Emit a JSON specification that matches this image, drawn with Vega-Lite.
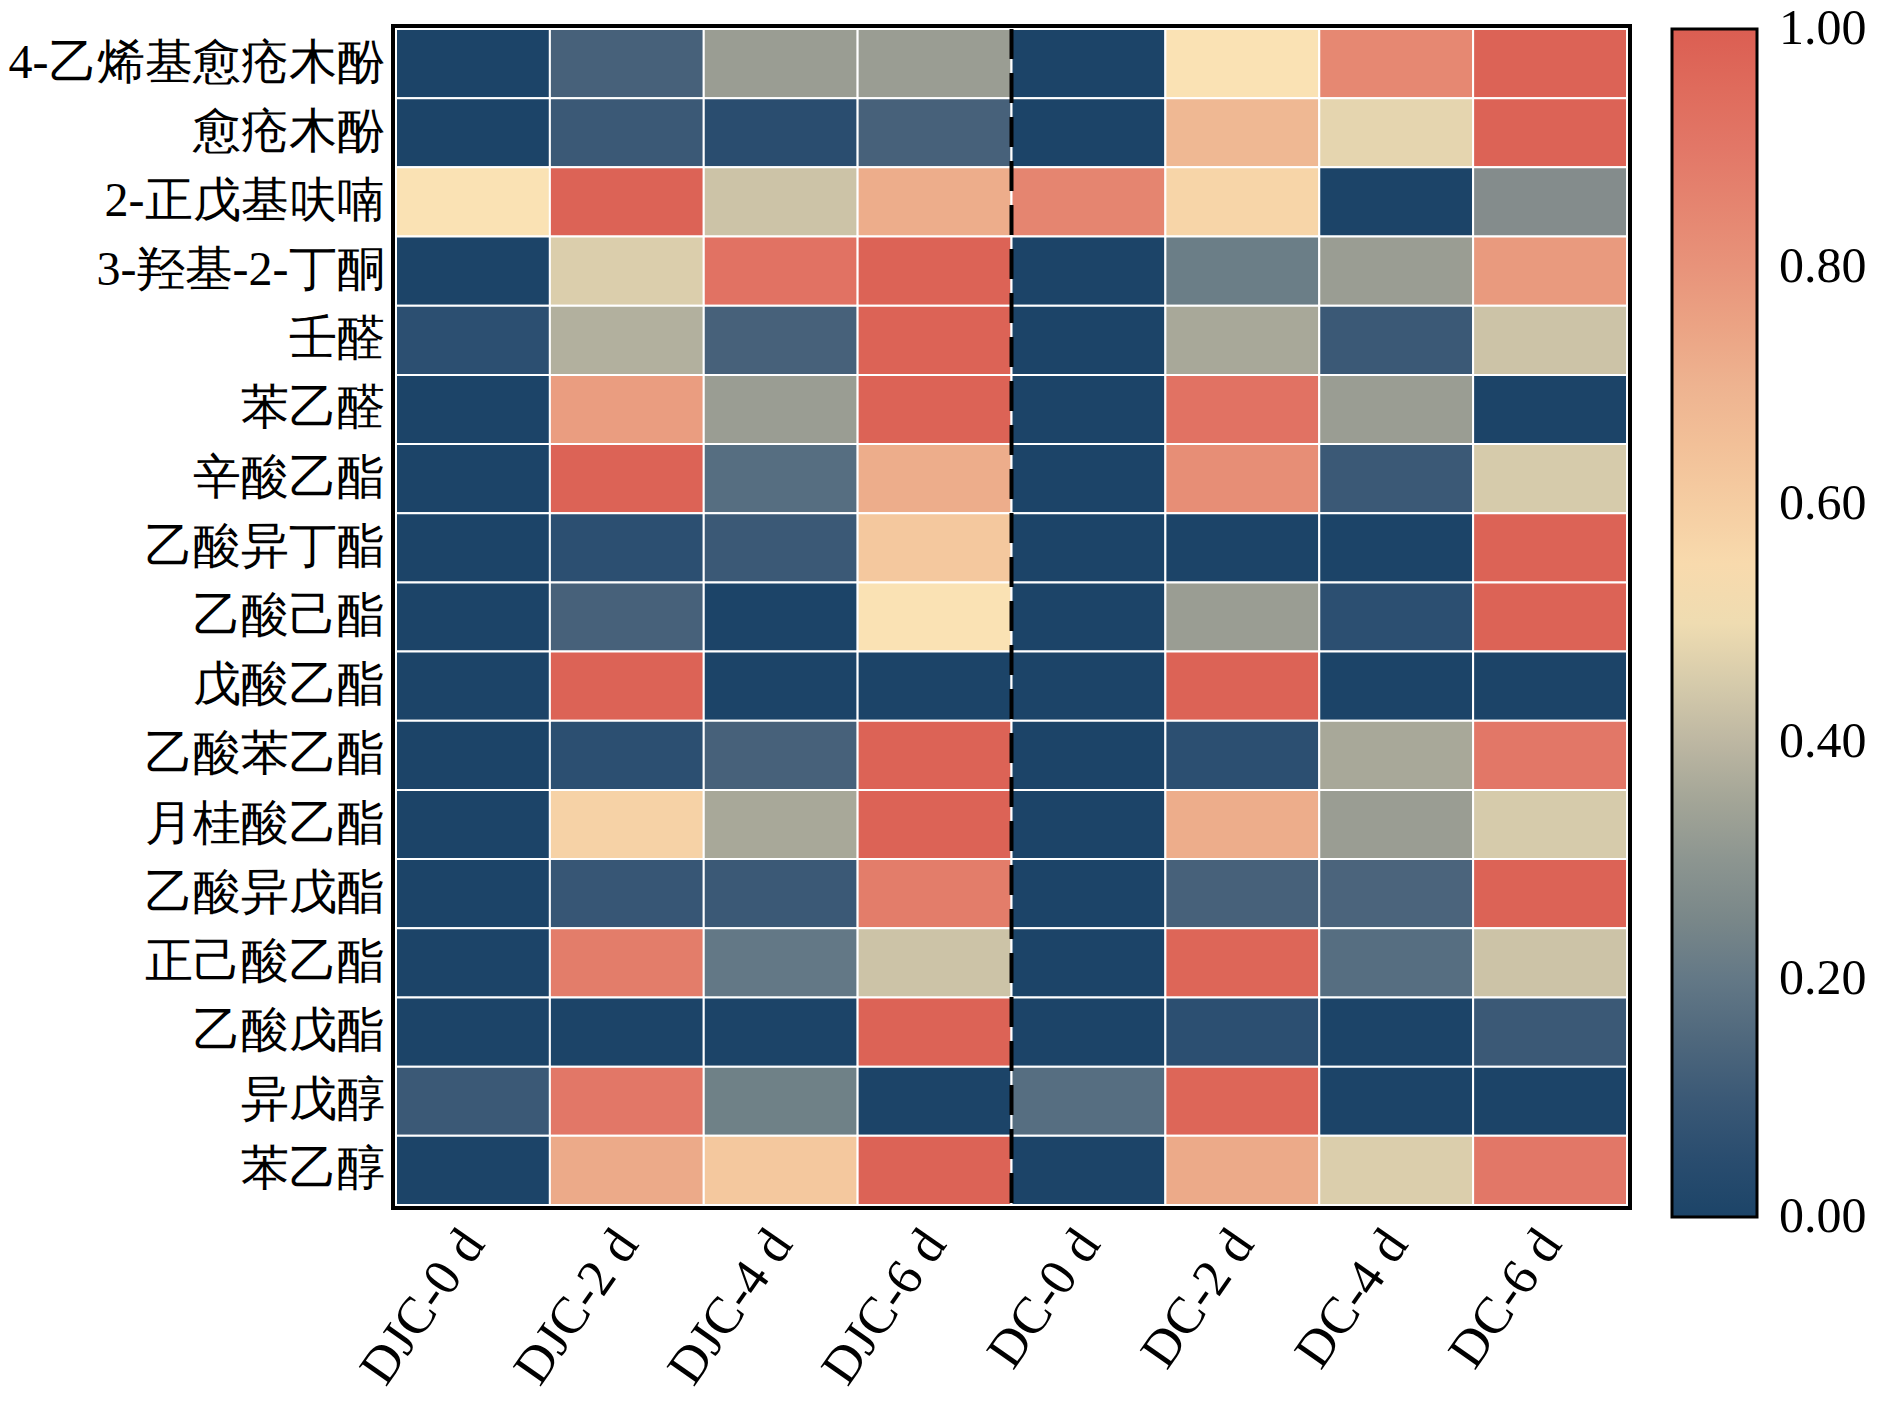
{
  "$schema": "https://vega.github.io/schema/vega-lite/v6.json",
  "autosize": {"type": "none"},
  "padding": {"left": 396, "top": 29, "right": 260, "bottom": 200},
  "width": 1231,
  "height": 1176,
  "background": "white",
  "config": {
    "font": "Liberation Serif",
    "view": {"stroke": "black", "strokeWidth": 10}
  },
  "data": {"values": [
    {"compound": "4-乙烯基愈疮木酚", "sample": "DJC-0 d", "value": 0},
    {"compound": "4-乙烯基愈疮木酚", "sample": "DJC-2 d", "value": 0.13},
    {"compound": "4-乙烯基愈疮木酚", "sample": "DJC-4 d", "value": 0.33},
    {"compound": "4-乙烯基愈疮木酚", "sample": "DJC-6 d", "value": 0.33},
    {"compound": "4-乙烯基愈疮木酚", "sample": "DC-0 d", "value": 0},
    {"compound": "4-乙烯基愈疮木酚", "sample": "DC-2 d", "value": 0.52},
    {"compound": "4-乙烯基愈疮木酚", "sample": "DC-4 d", "value": 0.84},
    {"compound": "4-乙烯基愈疮木酚", "sample": "DC-6 d", "value": 0.98},
    {"compound": "愈疮木酚", "sample": "DJC-0 d", "value": 0},
    {"compound": "愈疮木酚", "sample": "DJC-2 d", "value": 0.1},
    {"compound": "愈疮木酚", "sample": "DJC-4 d", "value": 0.05},
    {"compound": "愈疮木酚", "sample": "DJC-6 d", "value": 0.13},
    {"compound": "愈疮木酚", "sample": "DC-0 d", "value": 0},
    {"compound": "愈疮木酚", "sample": "DC-2 d", "value": 0.68},
    {"compound": "愈疮木酚", "sample": "DC-4 d", "value": 0.48},
    {"compound": "愈疮木酚", "sample": "DC-6 d", "value": 0.98},
    {"compound": "2-正戊基呋喃", "sample": "DJC-0 d", "value": 0.52},
    {"compound": "2-正戊基呋喃", "sample": "DJC-2 d", "value": 0.98},
    {"compound": "2-正戊基呋喃", "sample": "DJC-4 d", "value": 0.43},
    {"compound": "2-正戊基呋喃", "sample": "DJC-6 d", "value": 0.72},
    {"compound": "2-正戊基呋喃", "sample": "DC-0 d", "value": 0.85},
    {"compound": "2-正戊基呋喃", "sample": "DC-2 d", "value": 0.57},
    {"compound": "2-正戊基呋喃", "sample": "DC-4 d", "value": 0},
    {"compound": "2-正戊基呋喃", "sample": "DC-6 d", "value": 0.27},
    {"compound": "3-羟基-2-丁酮", "sample": "DJC-0 d", "value": 0},
    {"compound": "3-羟基-2-丁酮", "sample": "DJC-2 d", "value": 0.46},
    {"compound": "3-羟基-2-丁酮", "sample": "DJC-4 d", "value": 0.92},
    {"compound": "3-羟基-2-丁酮", "sample": "DJC-6 d", "value": 0.98},
    {"compound": "3-羟基-2-丁酮", "sample": "DC-0 d", "value": 0},
    {"compound": "3-羟基-2-丁酮", "sample": "DC-2 d", "value": 0.22},
    {"compound": "3-羟基-2-丁酮", "sample": "DC-4 d", "value": 0.33},
    {"compound": "3-羟基-2-丁酮", "sample": "DC-6 d", "value": 0.78},
    {"compound": "壬醛", "sample": "DJC-0 d", "value": 0.06},
    {"compound": "壬醛", "sample": "DJC-2 d", "value": 0.38},
    {"compound": "壬醛", "sample": "DJC-4 d", "value": 0.13},
    {"compound": "壬醛", "sample": "DJC-6 d", "value": 0.98},
    {"compound": "壬醛", "sample": "DC-0 d", "value": 0},
    {"compound": "壬醛", "sample": "DC-2 d", "value": 0.36},
    {"compound": "壬醛", "sample": "DC-4 d", "value": 0.1},
    {"compound": "壬醛", "sample": "DC-6 d", "value": 0.43},
    {"compound": "苯乙醛", "sample": "DJC-0 d", "value": 0},
    {"compound": "苯乙醛", "sample": "DJC-2 d", "value": 0.77},
    {"compound": "苯乙醛", "sample": "DJC-4 d", "value": 0.33},
    {"compound": "苯乙醛", "sample": "DJC-6 d", "value": 0.98},
    {"compound": "苯乙醛", "sample": "DC-0 d", "value": 0},
    {"compound": "苯乙醛", "sample": "DC-2 d", "value": 0.92},
    {"compound": "苯乙醛", "sample": "DC-4 d", "value": 0.33},
    {"compound": "苯乙醛", "sample": "DC-6 d", "value": 0},
    {"compound": "辛酸乙酯", "sample": "DJC-0 d", "value": 0},
    {"compound": "辛酸乙酯", "sample": "DJC-2 d", "value": 0.98},
    {"compound": "辛酸乙酯", "sample": "DJC-4 d", "value": 0.17},
    {"compound": "辛酸乙酯", "sample": "DJC-6 d", "value": 0.72},
    {"compound": "辛酸乙酯", "sample": "DC-0 d", "value": 0},
    {"compound": "辛酸乙酯", "sample": "DC-2 d", "value": 0.82},
    {"compound": "辛酸乙酯", "sample": "DC-4 d", "value": 0.1},
    {"compound": "辛酸乙酯", "sample": "DC-6 d", "value": 0.45},
    {"compound": "乙酸异丁酯", "sample": "DJC-0 d", "value": 0},
    {"compound": "乙酸异丁酯", "sample": "DJC-2 d", "value": 0.06},
    {"compound": "乙酸异丁酯", "sample": "DJC-4 d", "value": 0.1},
    {"compound": "乙酸异丁酯", "sample": "DJC-6 d", "value": 0.62},
    {"compound": "乙酸异丁酯", "sample": "DC-0 d", "value": 0},
    {"compound": "乙酸异丁酯", "sample": "DC-2 d", "value": 0},
    {"compound": "乙酸异丁酯", "sample": "DC-4 d", "value": 0},
    {"compound": "乙酸异丁酯", "sample": "DC-6 d", "value": 0.98},
    {"compound": "乙酸己酯", "sample": "DJC-0 d", "value": 0},
    {"compound": "乙酸己酯", "sample": "DJC-2 d", "value": 0.13},
    {"compound": "乙酸己酯", "sample": "DJC-4 d", "value": 0},
    {"compound": "乙酸己酯", "sample": "DJC-6 d", "value": 0.52},
    {"compound": "乙酸己酯", "sample": "DC-0 d", "value": 0},
    {"compound": "乙酸己酯", "sample": "DC-2 d", "value": 0.33},
    {"compound": "乙酸己酯", "sample": "DC-4 d", "value": 0.06},
    {"compound": "乙酸己酯", "sample": "DC-6 d", "value": 0.98},
    {"compound": "戊酸乙酯", "sample": "DJC-0 d", "value": 0},
    {"compound": "戊酸乙酯", "sample": "DJC-2 d", "value": 0.98},
    {"compound": "戊酸乙酯", "sample": "DJC-4 d", "value": 0},
    {"compound": "戊酸乙酯", "sample": "DJC-6 d", "value": 0},
    {"compound": "戊酸乙酯", "sample": "DC-0 d", "value": 0},
    {"compound": "戊酸乙酯", "sample": "DC-2 d", "value": 0.98},
    {"compound": "戊酸乙酯", "sample": "DC-4 d", "value": 0},
    {"compound": "戊酸乙酯", "sample": "DC-6 d", "value": 0},
    {"compound": "乙酸苯乙酯", "sample": "DJC-0 d", "value": 0},
    {"compound": "乙酸苯乙酯", "sample": "DJC-2 d", "value": 0.06},
    {"compound": "乙酸苯乙酯", "sample": "DJC-4 d", "value": 0.13},
    {"compound": "乙酸苯乙酯", "sample": "DJC-6 d", "value": 0.98},
    {"compound": "乙酸苯乙酯", "sample": "DC-0 d", "value": 0},
    {"compound": "乙酸苯乙酯", "sample": "DC-2 d", "value": 0.06},
    {"compound": "乙酸苯乙酯", "sample": "DC-4 d", "value": 0.36},
    {"compound": "乙酸苯乙酯", "sample": "DC-6 d", "value": 0.9},
    {"compound": "月桂酸乙酯", "sample": "DJC-0 d", "value": 0},
    {"compound": "月桂酸乙酯", "sample": "DJC-2 d", "value": 0.58},
    {"compound": "月桂酸乙酯", "sample": "DJC-4 d", "value": 0.36},
    {"compound": "月桂酸乙酯", "sample": "DJC-6 d", "value": 0.98},
    {"compound": "月桂酸乙酯", "sample": "DC-0 d", "value": 0},
    {"compound": "月桂酸乙酯", "sample": "DC-2 d", "value": 0.72},
    {"compound": "月桂酸乙酯", "sample": "DC-4 d", "value": 0.33},
    {"compound": "月桂酸乙酯", "sample": "DC-6 d", "value": 0.45},
    {"compound": "乙酸异戊酯", "sample": "DJC-0 d", "value": 0},
    {"compound": "乙酸异戊酯", "sample": "DJC-2 d", "value": 0.09},
    {"compound": "乙酸异戊酯", "sample": "DJC-4 d", "value": 0.1},
    {"compound": "乙酸异戊酯", "sample": "DJC-6 d", "value": 0.88},
    {"compound": "乙酸异戊酯", "sample": "DC-0 d", "value": 0},
    {"compound": "乙酸异戊酯", "sample": "DC-2 d", "value": 0.13},
    {"compound": "乙酸异戊酯", "sample": "DC-4 d", "value": 0.14},
    {"compound": "乙酸异戊酯", "sample": "DC-6 d", "value": 0.98},
    {"compound": "正己酸乙酯", "sample": "DJC-0 d", "value": 0},
    {"compound": "正己酸乙酯", "sample": "DJC-2 d", "value": 0.88},
    {"compound": "正己酸乙酯", "sample": "DJC-4 d", "value": 0.2},
    {"compound": "正己酸乙酯", "sample": "DJC-6 d", "value": 0.43},
    {"compound": "正己酸乙酯", "sample": "DC-0 d", "value": 0},
    {"compound": "正己酸乙酯", "sample": "DC-2 d", "value": 0.97},
    {"compound": "正己酸乙酯", "sample": "DC-4 d", "value": 0.17},
    {"compound": "正己酸乙酯", "sample": "DC-6 d", "value": 0.43},
    {"compound": "乙酸戊酯", "sample": "DJC-0 d", "value": 0},
    {"compound": "乙酸戊酯", "sample": "DJC-2 d", "value": 0},
    {"compound": "乙酸戊酯", "sample": "DJC-4 d", "value": 0},
    {"compound": "乙酸戊酯", "sample": "DJC-6 d", "value": 0.98},
    {"compound": "乙酸戊酯", "sample": "DC-0 d", "value": 0},
    {"compound": "乙酸戊酯", "sample": "DC-2 d", "value": 0.06},
    {"compound": "乙酸戊酯", "sample": "DC-4 d", "value": 0},
    {"compound": "乙酸戊酯", "sample": "DC-6 d", "value": 0.1},
    {"compound": "异戊醇", "sample": "DJC-0 d", "value": 0.1},
    {"compound": "异戊醇", "sample": "DJC-2 d", "value": 0.9},
    {"compound": "异戊醇", "sample": "DJC-4 d", "value": 0.23},
    {"compound": "异戊醇", "sample": "DJC-6 d", "value": 0},
    {"compound": "异戊醇", "sample": "DC-0 d", "value": 0.17},
    {"compound": "异戊醇", "sample": "DC-2 d", "value": 0.97},
    {"compound": "异戊醇", "sample": "DC-4 d", "value": 0},
    {"compound": "异戊醇", "sample": "DC-6 d", "value": 0},
    {"compound": "苯乙醇", "sample": "DJC-0 d", "value": 0},
    {"compound": "苯乙醇", "sample": "DJC-2 d", "value": 0.73},
    {"compound": "苯乙醇", "sample": "DJC-4 d", "value": 0.62},
    {"compound": "苯乙醇", "sample": "DJC-6 d", "value": 0.98},
    {"compound": "苯乙醇", "sample": "DC-0 d", "value": 0},
    {"compound": "苯乙醇", "sample": "DC-2 d", "value": 0.73},
    {"compound": "苯乙醇", "sample": "DC-4 d", "value": 0.46},
    {"compound": "苯乙醇", "sample": "DC-6 d", "value": 0.9}
  ]},
  "layer": [
    {
      "mark": {"type": "rect", "stroke": "white", "strokeWidth": 2},
      "encoding": {
        "x": {
          "field": "sample", "type": "nominal", "title": null,
          "scale": {"domain": ["DJC-0 d", "DJC-2 d", "DJC-4 d", "DJC-6 d", "DC-0 d", "DC-2 d", "DC-4 d", "DC-6 d"], "paddingInner": 0, "paddingOuter": 0},
          "axis": {"labelAngle": -55, "labelAlign": "right", "labelBaseline": "middle", "labelFontSize": 52, "labelFont": "Liberation Serif", "labelColor": "black", "labelPadding": 30, "labelDx": 42, "labelLimit": 0, "ticks": false, "domain": false}
        },
        "y": {
          "field": "compound", "type": "nominal", "title": null,
          "scale": {"domain": ["4-乙烯基愈疮木酚", "愈疮木酚", "2-正戊基呋喃", "3-羟基-2-丁酮", "壬醛", "苯乙醛", "辛酸乙酯", "乙酸异丁酯", "乙酸己酯", "戊酸乙酯", "乙酸苯乙酯", "月桂酸乙酯", "乙酸异戊酯", "正己酸乙酯", "乙酸戊酯", "异戊醇", "苯乙醇"], "paddingInner": 0, "paddingOuter": 0},
          "axis": {"labelFontSize": 48, "labelFont": "Liberation Serif", "labelColor": "black", "labelPadding": 12, "labelLimit": 0, "ticks": false, "domain": false}
        },
        "color": {
          "field": "value", "type": "quantitative",
          "scale": {
            "domain": [0, 0.07, 0.13, 0.2, 0.27, 0.33, 0.4, 0.45, 0.52, 0.6, 0.7, 0.8, 0.9, 1],
            "range": ["#1c4468", "#2f5172", "#47617a", "#637886", "#848c8c", "#9a9d93", "#bdb7a2", "#d6cbab", "#fae2b4", "#f5cda2", "#eeb390", "#e8937a", "#e27767", "#db5e52"]
          },
          "legend": {
            "orient": "none", "legendX": 1276, "legendY": 0, "padding": 0,
            "direction": "vertical", "title": null,
            "gradientLength": 1188, "gradientThickness": 85,
            "gradientStrokeColor": "black", "gradientStrokeWidth": 3,
            "values": [0, 0.2, 0.4, 0.6, 0.8, 1], "format": ".2f",
            "labelFontSize": 50, "labelFont": "Liberation Serif", "labelColor": "black",
            "labelOffset": 22, "labelAlign": "left",
            "encode": {"labels": {"update": {"baseline": {"value": "middle"}}}}
          }
        }
      }
    },
    {
      "data": {"values": [{"boundary": "DC-0 d"}]},
      "mark": {"type": "rule", "strokeDash": [30, 14], "strokeWidth": 4, "color": "black"},
      "encoding": {
        "x": {"field": "boundary", "type": "nominal", "bandPosition": 0}
      }
    }
  ]
}
